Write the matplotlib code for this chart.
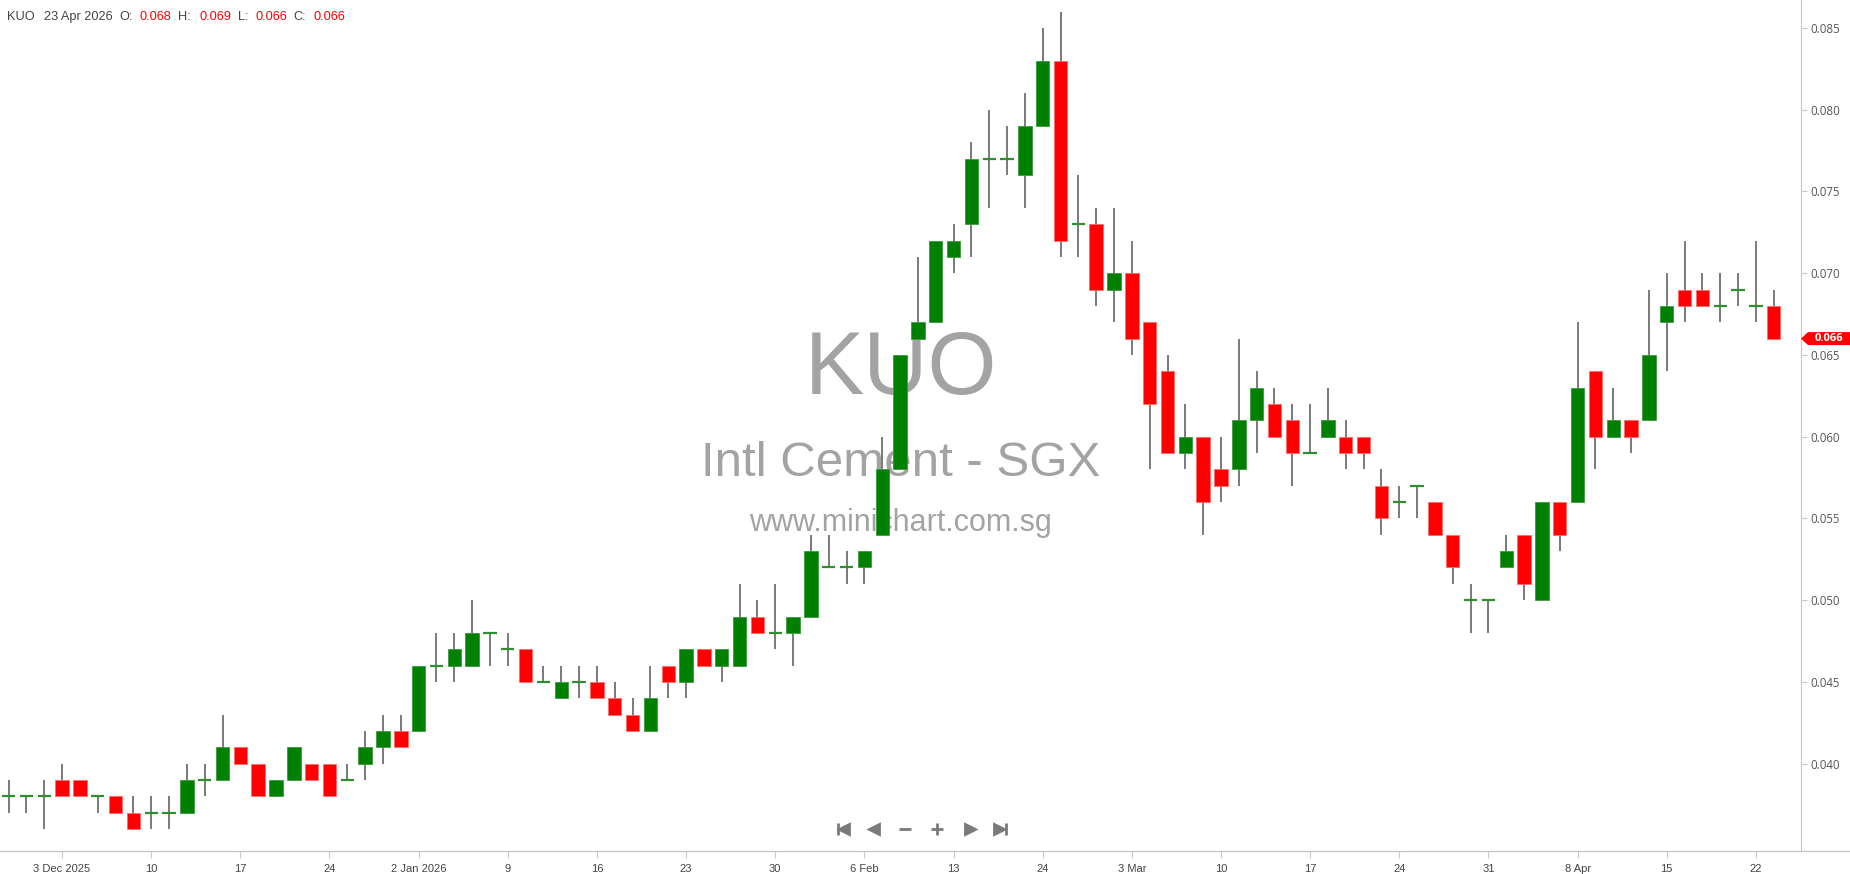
import matplotlib
matplotlib.use("Agg")
import matplotlib.pyplot as plt
import matplotlib.transforms as mtransforms
from matplotlib.lines import Line2D
from matplotlib.patches import Polygon
import numpy as np
import pandas as pd


W, H, DPI = 1850, 874, 100

SYMBOL = "KUO"
NAME = "Intl Cement - SGX"
SITE = "www.minichart.com.sg"

# SGX trading days shown on the chart
HOLIDAYS = ["2025-12-25", "2026-01-01", "2026-02-17", "2026-02-18", "2026-04-03"]
dates = [d for d in pd.bdate_range("2025-11-28", "2026-04-23")
         if d.strftime("%Y-%m-%d") not in HOLIDAYS]

opens = [
    0.038, 0.038, 0.038, 0.039, 0.039, 0.038, 0.038, 0.037, 0.037, 0.037,
    0.037, 0.039, 0.039, 0.041, 0.040, 0.038, 0.039, 0.040, 0.040, 0.039,
    0.040, 0.041, 0.042, 0.042, 0.046, 0.046, 0.046, 0.048, 0.047, 0.047,
    0.045, 0.044, 0.045, 0.045, 0.044, 0.043, 0.042, 0.046, 0.045, 0.047,
    0.046, 0.046, 0.049, 0.048, 0.048, 0.049, 0.052, 0.052, 0.052, 0.054,
    0.058, 0.066, 0.067, 0.071, 0.073, 0.077, 0.077, 0.076, 0.079, 0.083,
    0.073, 0.073, 0.069, 0.070, 0.067, 0.064, 0.059, 0.060, 0.058, 0.058,
    0.061, 0.062, 0.061, 0.059, 0.060, 0.060, 0.060, 0.057, 0.056, 0.057,
    0.056, 0.054, 0.050, 0.050, 0.052, 0.054, 0.050, 0.056, 0.056, 0.064,
    0.060, 0.061, 0.061, 0.067, 0.069, 0.069, 0.068, 0.069, 0.068, 0.068,
]
highs = [
    0.039, 0.038, 0.039, 0.040, 0.039, 0.038, 0.038, 0.038, 0.038, 0.038,
    0.040, 0.040, 0.043, 0.041, 0.040, 0.039, 0.041, 0.040, 0.040, 0.040,
    0.042, 0.043, 0.043, 0.046, 0.048, 0.048, 0.050, 0.048, 0.048, 0.047,
    0.046, 0.046, 0.046, 0.046, 0.045, 0.044, 0.046, 0.046, 0.047, 0.047,
    0.047, 0.051, 0.050, 0.051, 0.049, 0.054, 0.054, 0.053, 0.053, 0.060,
    0.065, 0.071, 0.072, 0.073, 0.078, 0.080, 0.079, 0.081, 0.085, 0.086,
    0.076, 0.074, 0.074, 0.072, 0.067, 0.065, 0.062, 0.060, 0.060, 0.066,
    0.064, 0.063, 0.062, 0.062, 0.063, 0.061, 0.060, 0.058, 0.057, 0.057,
    0.056, 0.054, 0.051, 0.050, 0.054, 0.054, 0.056, 0.056, 0.067, 0.064,
    0.063, 0.061, 0.069, 0.070, 0.072, 0.070, 0.070, 0.070, 0.072, 0.069,
]
lows = [
    0.037, 0.037, 0.036, 0.038, 0.038, 0.037, 0.037, 0.036, 0.036, 0.036,
    0.037, 0.038, 0.039, 0.040, 0.038, 0.038, 0.039, 0.039, 0.038, 0.039,
    0.039, 0.040, 0.041, 0.042, 0.045, 0.045, 0.046, 0.046, 0.046, 0.045,
    0.045, 0.044, 0.044, 0.044, 0.043, 0.042, 0.042, 0.044, 0.044, 0.046,
    0.045, 0.046, 0.048, 0.047, 0.046, 0.049, 0.052, 0.051, 0.051, 0.054,
    0.058, 0.066, 0.067, 0.070, 0.071, 0.074, 0.076, 0.074, 0.079, 0.071,
    0.071, 0.068, 0.067, 0.065, 0.058, 0.059, 0.058, 0.054, 0.056, 0.057,
    0.059, 0.060, 0.057, 0.059, 0.060, 0.058, 0.058, 0.054, 0.055, 0.055,
    0.054, 0.051, 0.048, 0.048, 0.052, 0.050, 0.050, 0.053, 0.056, 0.058,
    0.060, 0.059, 0.061, 0.064, 0.067, 0.068, 0.067, 0.068, 0.067, 0.066,
]
closes = [
    0.038, 0.038, 0.038, 0.038, 0.038, 0.038, 0.037, 0.036, 0.037, 0.037,
    0.039, 0.039, 0.041, 0.040, 0.038, 0.039, 0.041, 0.039, 0.038, 0.039,
    0.041, 0.042, 0.041, 0.046, 0.046, 0.047, 0.048, 0.048, 0.047, 0.045,
    0.045, 0.045, 0.045, 0.044, 0.043, 0.042, 0.044, 0.045, 0.047, 0.046,
    0.047, 0.049, 0.048, 0.048, 0.049, 0.053, 0.052, 0.052, 0.053, 0.058,
    0.065, 0.067, 0.072, 0.072, 0.077, 0.077, 0.077, 0.079, 0.083, 0.072,
    0.073, 0.069, 0.070, 0.066, 0.062, 0.059, 0.060, 0.056, 0.057, 0.061,
    0.063, 0.060, 0.059, 0.059, 0.061, 0.059, 0.059, 0.055, 0.056, 0.057,
    0.054, 0.052, 0.050, 0.050, 0.053, 0.051, 0.056, 0.054, 0.063, 0.060,
    0.061, 0.060, 0.065, 0.068, 0.068, 0.068, 0.068, 0.069, 0.068, 0.066,
]

tick_dates = ["2025-12-03", "2025-12-10", "2025-12-17", "2025-12-24", "2026-01-02",
              "2026-01-09", "2026-01-16", "2026-01-23", "2026-01-30", "2026-02-06",
              "2026-02-13", "2026-02-24", "2026-03-03", "2026-03-10", "2026-03-17",
              "2026-03-24", "2026-03-31", "2026-04-08", "2026-04-15", "2026-04-22"]
tick_labels = ["3 Dec 2025", "10", "17", "24", "2 Jan 2026", "9", "16", "23", "30",
               "6 Feb", "13", "24", "3 Mar", "10", "17", "24", "31", "8 Apr", "15", "22"]
price_ticks = [0.040, 0.045, 0.050, 0.055, 0.060, 0.065, 0.070, 0.075, 0.080, 0.085]

UP = "#008000"
DOWN = "#ff0000"
WICK = "#707070"
AXIS = "#c8c8c8"
WATERMARK = "#a3a3a3"


def px(x, y):
    # pixel position (from top-left) -> figure fraction
    return x / W, 1 - y / H


def main():
    o = np.array(opens)
    h = np.array(highs)
    l = np.array(lows)
    c = np.array(closes)
    x = np.arange(len(dates))

    fig = plt.figure(figsize=(W / DPI, H / DPI), dpi=DPI)
    fig.patch.set_facecolor("white")
    ax = fig.add_axes([0, 23 / H, 1801 / W, 851 / H])

    # wicks
    ax.vlines(x, l, h, color=WICK, lw=1.3, zorder=2)

    body_w = 0.75
    up = c > o
    down = c < o
    flat = c == o
    ax.bar(x[up], c[up] - o[up], bottom=o[up], width=body_w, color=UP,
           edgecolor="#3d9a3d", lw=0.6, zorder=3)
    ax.bar(x[down], o[down] - c[down], bottom=c[down], width=body_w, color=DOWN,
           edgecolor="#ff6b6b", lw=0.6, zorder=3)
    ax.hlines(c[flat], x[flat] - body_w / 2, x[flat] + body_w / 2, color="#2f8f2f",
              lw=1.6, zorder=3)

    ax.set_xlim(-0.48, 100.53)
    ax.set_ylim(0.03466, 0.08671)

    # watermark
    ax.text(0.5, 1 - 371 / 851, SYMBOL, transform=ax.transAxes, ha="center", va="center",
            fontsize=64, color=WATERMARK, family="Liberation Sans", zorder=0)
    ax.text(0.5, 1 - 464 / 851, NAME, transform=ax.transAxes, ha="center", va="center",
            fontsize=35.5, color=WATERMARK, family="Liberation Sans", zorder=0)
    ax.text(0.5, 1 - 523 / 851, SITE, transform=ax.transAxes, ha="center", va="center",
            fontsize=22, color=WATERMARK, family="Liberation Sans", zorder=0)

    # axes styling
    for side in ["top", "left", "bottom"]:
        ax.spines[side].set_visible(False)
    ax.spines["right"].set_color(AXIS)
    ax.yaxis.tick_right()
    ax.set_yticks(price_ticks)
    ax.set_yticklabels([f"{p:.3f}" for p in price_ticks])
    ax.tick_params(axis="y", direction="out", length=4, width=0.8, color=AXIS,
                   labelcolor="#555555", labelsize=8.3, pad=3)
    for t in ax.get_yticklabels():
        t.set_family("Open Sans")

    pos = [dates.index(pd.Timestamp(d)) for d in tick_dates]
    ax.set_xticks(pos)
    ax.set_xticklabels(tick_labels)
    ax.tick_params(axis="x", direction="out", length=5, width=0.8, color=AXIS,
                   labelcolor="#444444", labelsize=8, pad=4)
    for t in ax.get_xticklabels():
        t.set_family("Liberation Sans")

    # bottom axis line across the whole width
    fig.add_artist(Line2D([0, 1], [23 / H, 23 / H], color=AXIS, lw=1,
                          transform=fig.transFigure))

    # last price tag
    last = c[-1]
    dy = 6.5 * (0.08671 - 0.03466) / 851
    tr = mtransforms.blended_transform_factory(ax.transAxes, ax.transData)
    x0 = 1.0
    x1 = 1.0 + 7 / 1801
    x2 = 1850 / 1801
    tag = Polygon([[x0, last], [x1, last + dy], [x2, last + dy], [x2, last - dy], [x1, last - dy]],
                  closed=True, transform=tr, facecolor="#ff0000", edgecolor="none",
                  clip_on=False, zorder=5)
    ax.add_patch(tag)
    ax.text((x1 + x2) / 2, last, f"{last:.3f}", transform=tr, ha="center", va="center",
            fontsize=8, color="white", fontweight="bold", family="Open Sans",
            clip_on=False, zorder=6)

    # header line
    hy = 17
    header = [
        (7, SYMBOL, "#444444"), (44, dates[-1].strftime("%-d %b %Y"), "#444444"),
        (119, "O:", "#444444"), (140, f"{o[-1]:.3f}", "#ff0000"),
        (178, "H:", "#444444"), (199, f"{h[-1]:.3f}", "#ff0000"),
        (238, "L:", "#444444"), (256, f"{l[-1]:.3f}", "#ff0000"),
        (293, "C:", "#444444"), (313, f"{c[-1]:.3f}", "#ff0000"),
    ]
    for hx, txt, col in header:
        fx, fy = px(hx, hy)
        fig.text(fx, fy, txt, ha="left", va="center", fontsize=9.2, color=col,
                 family="Liberation Sans")

    # navigation buttons
    nav = "#7a7a7a"
    ny = px(0, 829)[1]
    def mark(xp, m, size):
        fig.add_artist(Line2D([xp / W], [ny], marker=m, markersize=size, color=nav,
                              markeredgewidth=2.0, linestyle="none",
                              transform=fig.transFigure))
    mark(837.5, "|", 8.5)
    mark(844, "<", 6.5)
    mark(874, "<", 6.5)
    mark(905, "_", 9)
    mark(937, "+", 9)
    mark(970, ">", 6.5)
    mark(999, ">", 6.5)
    mark(1005.5, "|", 8.5)

    fig.savefig("out.png", dpi=DPI, facecolor="white")


if __name__ == "__main__":
    main()
